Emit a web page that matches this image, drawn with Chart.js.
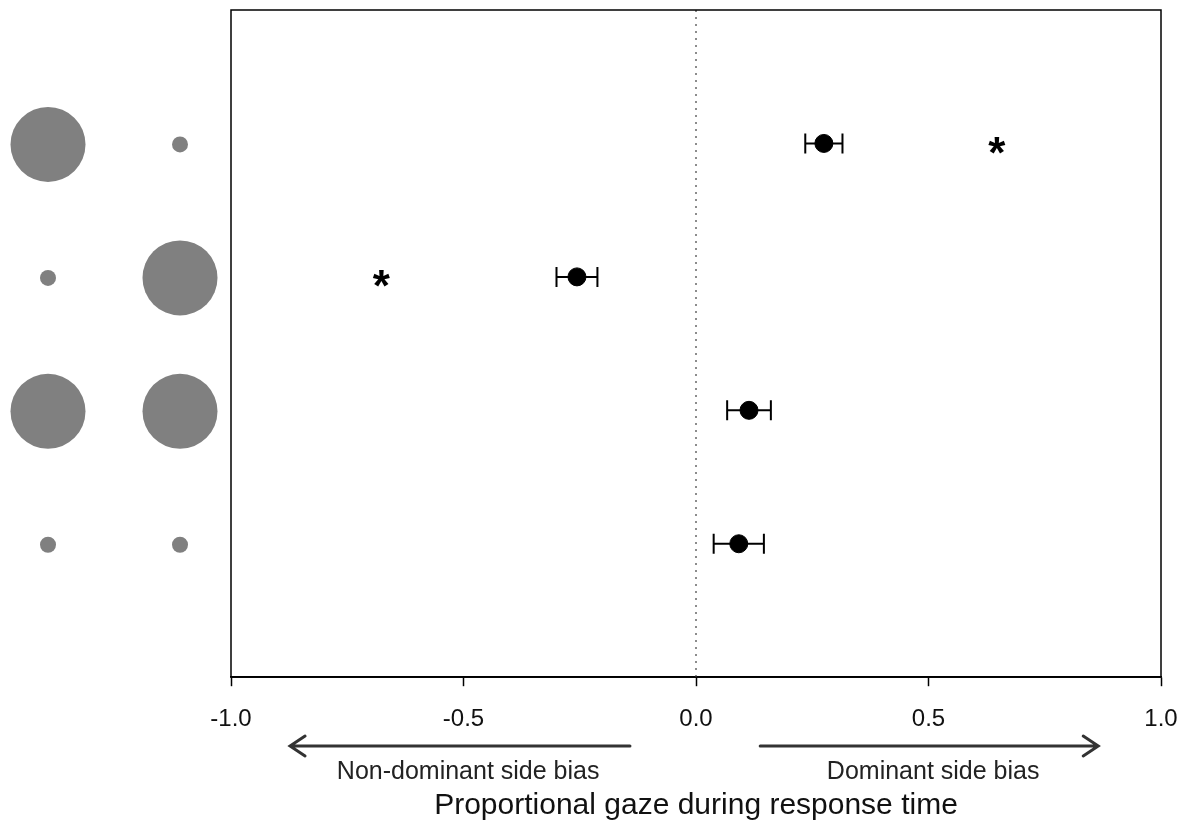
<!DOCTYPE html>
<html>
<head>
<meta charset="utf-8">
<script src="https://cdn.jsdelivr.net/npm/chart.js@4"></script>
<style>
  html, body { margin: 0; padding: 0; background: #fff; }
</style>
</head>
<body>
<canvas id="chart" width="1188" height="829"></canvas>
<script>
// ===== Data =====
const rows = [1, 2, 3, 4];
const means = [0.275, -0.256, 0.114, 0.092];
const sems = [0.040, 0.044, 0.047, 0.054];
const leftStim = ['large', 'small', 'large', 'small'];
const rightStim = ['small', 'large', 'large', 'small'];
const starRows = [1, 2];
const starX = [0.647, -0.677];
const xTicks = [-1.0, -0.5, 0.0, 0.5, 1.0];
const biasLabels = ['Non-dominant side bias', 'Dominant side bias'];
const biasCenters = [-0.49, 0.51];
const arrowFrom = [-0.142, 0.138];
const arrowTo = [-0.873, 0.865];

const FONT = '"Liberation Sans", Arial, sans-serif';

const extras = {
    id: 'extras',
    beforeDatasetsDraw(chart) {
        const { ctx, scales: { x, y } } = chart;
        ctx.save();
        ctx.strokeStyle = '#000';
        ctx.lineWidth = 2;
        rows.forEach((r, i) => {
            const py = y.getPixelForValue(r);
            const lo = x.getPixelForValue(means[i] - sems[i]);
            const hi = x.getPixelForValue(means[i] + sems[i]);
            ctx.beginPath();
            ctx.moveTo(lo, py); ctx.lineTo(hi, py);
            ctx.moveTo(lo, py - 10); ctx.lineTo(lo, py + 10);
            ctx.moveTo(hi, py - 10); ctx.lineTo(hi, py + 10);
            ctx.stroke();
        });
        ctx.restore();
    },
    afterDraw(chart) {
        const { ctx, chartArea: a, scales: { x, y } } = chart;
        ctx.save();
        // frame
        ctx.strokeStyle = '#000';
        ctx.lineWidth = 1.5;
        ctx.strokeRect(a.left, a.top, a.right - a.left, a.bottom - a.top);

        // stimulus circles left of the plot
        ctx.fillStyle = '#808080';
        const rad = s => s === 'large' ? 37.5 : 8;
        rows.forEach((r, i) => {
            const py = y.getPixelForValue(r) + 1;
            ctx.beginPath(); ctx.arc(48, py, rad(leftStim[i]), 0, Math.PI * 2); ctx.fill();
            ctx.beginPath(); ctx.arc(180, py, rad(rightStim[i]), 0, Math.PI * 2); ctx.fill();
        });

        // asterisks, glyph centred on the row
        ctx.fillStyle = '#000';
        ctx.font = 'bold 44px ' + FONT;
        ctx.textAlign = 'center';
        ctx.textBaseline = 'alphabetic';
        const m = ctx.measureText('*');
        const mid = (m.actualBoundingBoxAscent - m.actualBoundingBoxDescent) / 2;
        starRows.forEach((r, i) => {
            ctx.fillText('*', x.getPixelForValue(starX[i]), y.getPixelForValue(r) + 2 + mid);
        });

        // bias arrows
        const ay = 746;
        ctx.strokeStyle = '#333';
        ctx.lineWidth = 3;
        ctx.lineCap = 'round';
        arrowFrom.forEach((f, i) => {
            const x0 = x.getPixelForValue(f), x1 = x.getPixelForValue(arrowTo[i]);
            const d = x1 > x0 ? 1 : -1;
            ctx.beginPath();
            ctx.moveTo(x0, ay); ctx.lineTo(x1, ay);
            ctx.moveTo(x1 - d * 15, ay - 10); ctx.lineTo(x1, ay); ctx.lineTo(x1 - d * 15, ay + 10);
            ctx.stroke();
        });
        ctx.fillStyle = '#222';
        ctx.font = '25px ' + FONT;
        ctx.textBaseline = 'middle';
        biasLabels.forEach((t, i) => {
            ctx.fillText(t, x.getPixelForValue(biasCenters[i]), 772);
        });
        ctx.restore();
    }
};

new Chart(document.getElementById('chart'), {
    type: 'scatter',
    data: {
        datasets: [
            {
                label: 'zero',
                type: 'line',
                data: [{ x: 0, y: 0 }, { x: 0, y: 5 }],
                borderColor: '#666',
                borderWidth: 1.5,
                borderDash: [2, 5],
                pointRadius: 0
            },
            {
                label: 'Proportional gaze',
                data: rows.map((r, i) => ({ x: means[i], y: r })),
                backgroundColor: '#000',
                borderColor: '#000',
                pointRadius: 9,
                pointHoverRadius: 9
            }
        ]
    },
    plugins: [extras],
    options: {
        responsive: false,
        animation: false,
        events: [],
        layout: { padding: { left: 231, right: 27, top: 10, bottom: 4 } },
        plugins: { legend: { display: false }, tooltip: { enabled: false } },
        scales: {
            x: {
                type: 'linear', min: -1, max: 1,
                afterBuildTicks: s => { s.ticks = xTicks.map(v => ({ value: v })); },
                afterFit: s => { s.paddingLeft = 0; s.paddingRight = 0; },
                ticks: {
                    color: '#111', padding: 19,
                    font: { family: FONT, size: 24 },
                    callback: v => Number(v).toFixed(1),
                    maxRotation: 0
                },
                grid: { drawOnChartArea: false, tickLength: 9, tickColor: '#000', tickWidth: 1.5 },
                border: { display: true, color: '#000', width: 1.5 },
                title: {
                    display: true, text: 'Proportional gaze during response time',
                    color: '#111', font: { family: FONT, size: 30 },
                    padding: { top: 35, bottom: 1 }
                }
            },
            y: {
                type: 'linear', min: 0, max: 5, reverse: true,
                display: false
            }
        }
    }
});
</script>
</body>
</html>
